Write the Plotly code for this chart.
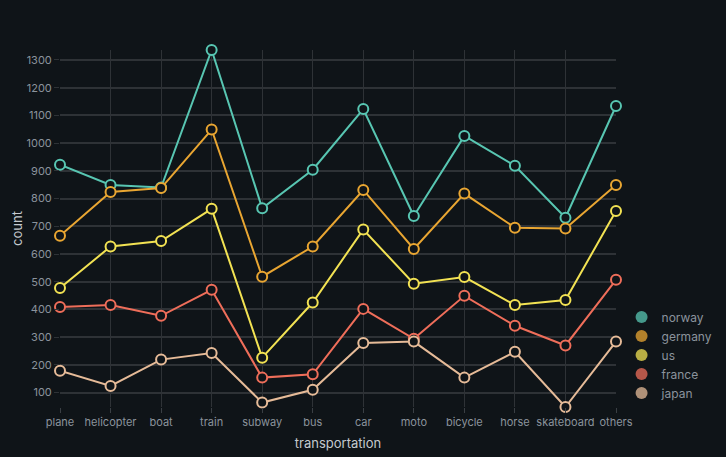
import plotly.graph_objects as go

categories = ["plane", "helicopter", "boat", "train", "subway", "bus", "car",
              "moto", "bicycle", "horse", "skateboard", "others"]
norway = [922, 849, 840, 1336, 765, 904, 1123, 737, 1026, 918, 731, 1134]
germany = [666, 824, 838, 1049, 518, 627, 831, 618, 818, 695, 692, 849]
us = [477, 627, 647, 763, 226, 425, 688, 493, 517, 416, 434, 755]
france = [409, 416, 377, 471, 154, 166, 402, 294, 449, 341, 270, 507]
japan = [179, 124, 219, 243, 64, 110, 279, 284, 154, 247, 48, 284]

series = [("norway", norway, "#58c6b2"),
          ("germany", germany, "#e9a632"),
          ("us", us, "#f2e253"),
          ("france", france, "#ef6e5a"),
          ("japan", japan, "#e6bb98")]

bg = "#0f1418"
grid = "#2e3236"

fig = go.Figure()
for name, vals, col in series:
    fig.add_trace(go.Scatter(
        x=categories, y=vals, mode="lines+markers", name=name,
        line=dict(color=col, width=2),
        marker=dict(size=10, color=bg, line=dict(color=col, width=2)),
        showlegend=False, cliponaxis=False))
for name, vals, col in series:
    fig.add_trace(go.Scatter(
        x=[None], y=[None], mode="markers", name=name,
        marker=dict(size=13, color=col, opacity=0.75),
        showlegend=True))

fig.update_layout(
    width=726, height=457,
    paper_bgcolor=bg, plot_bgcolor=bg,
    margin=dict(l=60, r=110, t=50, b=50, autoexpand=False),
    font=dict(family="Inter, Roboto, sans-serif", color="#8b939c", size=11),
    legend=dict(x=1.01, y=0.293, xanchor="left", yanchor="top",
                font=dict(size=12, color="#8b939c"),
                itemsizing="constant", tracegroupgap=0,
                bgcolor="rgba(0,0,0,0)"),
    xaxis=dict(
        categoryorder="array", categoryarray=categories,
        range=[0, 11], showgrid=True, gridcolor=grid, gridwidth=1,
        zeroline=False, showline=False, automargin=False,
        ticks="outside", ticklen=5, tickcolor="#3a3f44",
        tickfont=dict(size=11, color="#8b939c"),
        title=dict(text="transportation", font=dict(size=13, color="#c5cacf"), standoff=10)),
    yaxis=dict(
        range=[48, 1336], tickvals=list(range(100, 1400, 100)), tickformat="d",
        showgrid=True, gridcolor=grid, gridwidth=2,
        zeroline=False, showline=False, automargin=False,
        ticks="outside", ticklen=5, tickcolor=grid,
        tickfont=dict(size=11, color="#8b939c"),
        title=dict(text="count", font=dict(size=13, color="#c5cacf"), standoff=0)),
)

fig.write_html("out.html", config={"displayModeBar": False},
               post_script="document.body.style.margin='0';"
                           "document.body.style.background='#0f1418';")
